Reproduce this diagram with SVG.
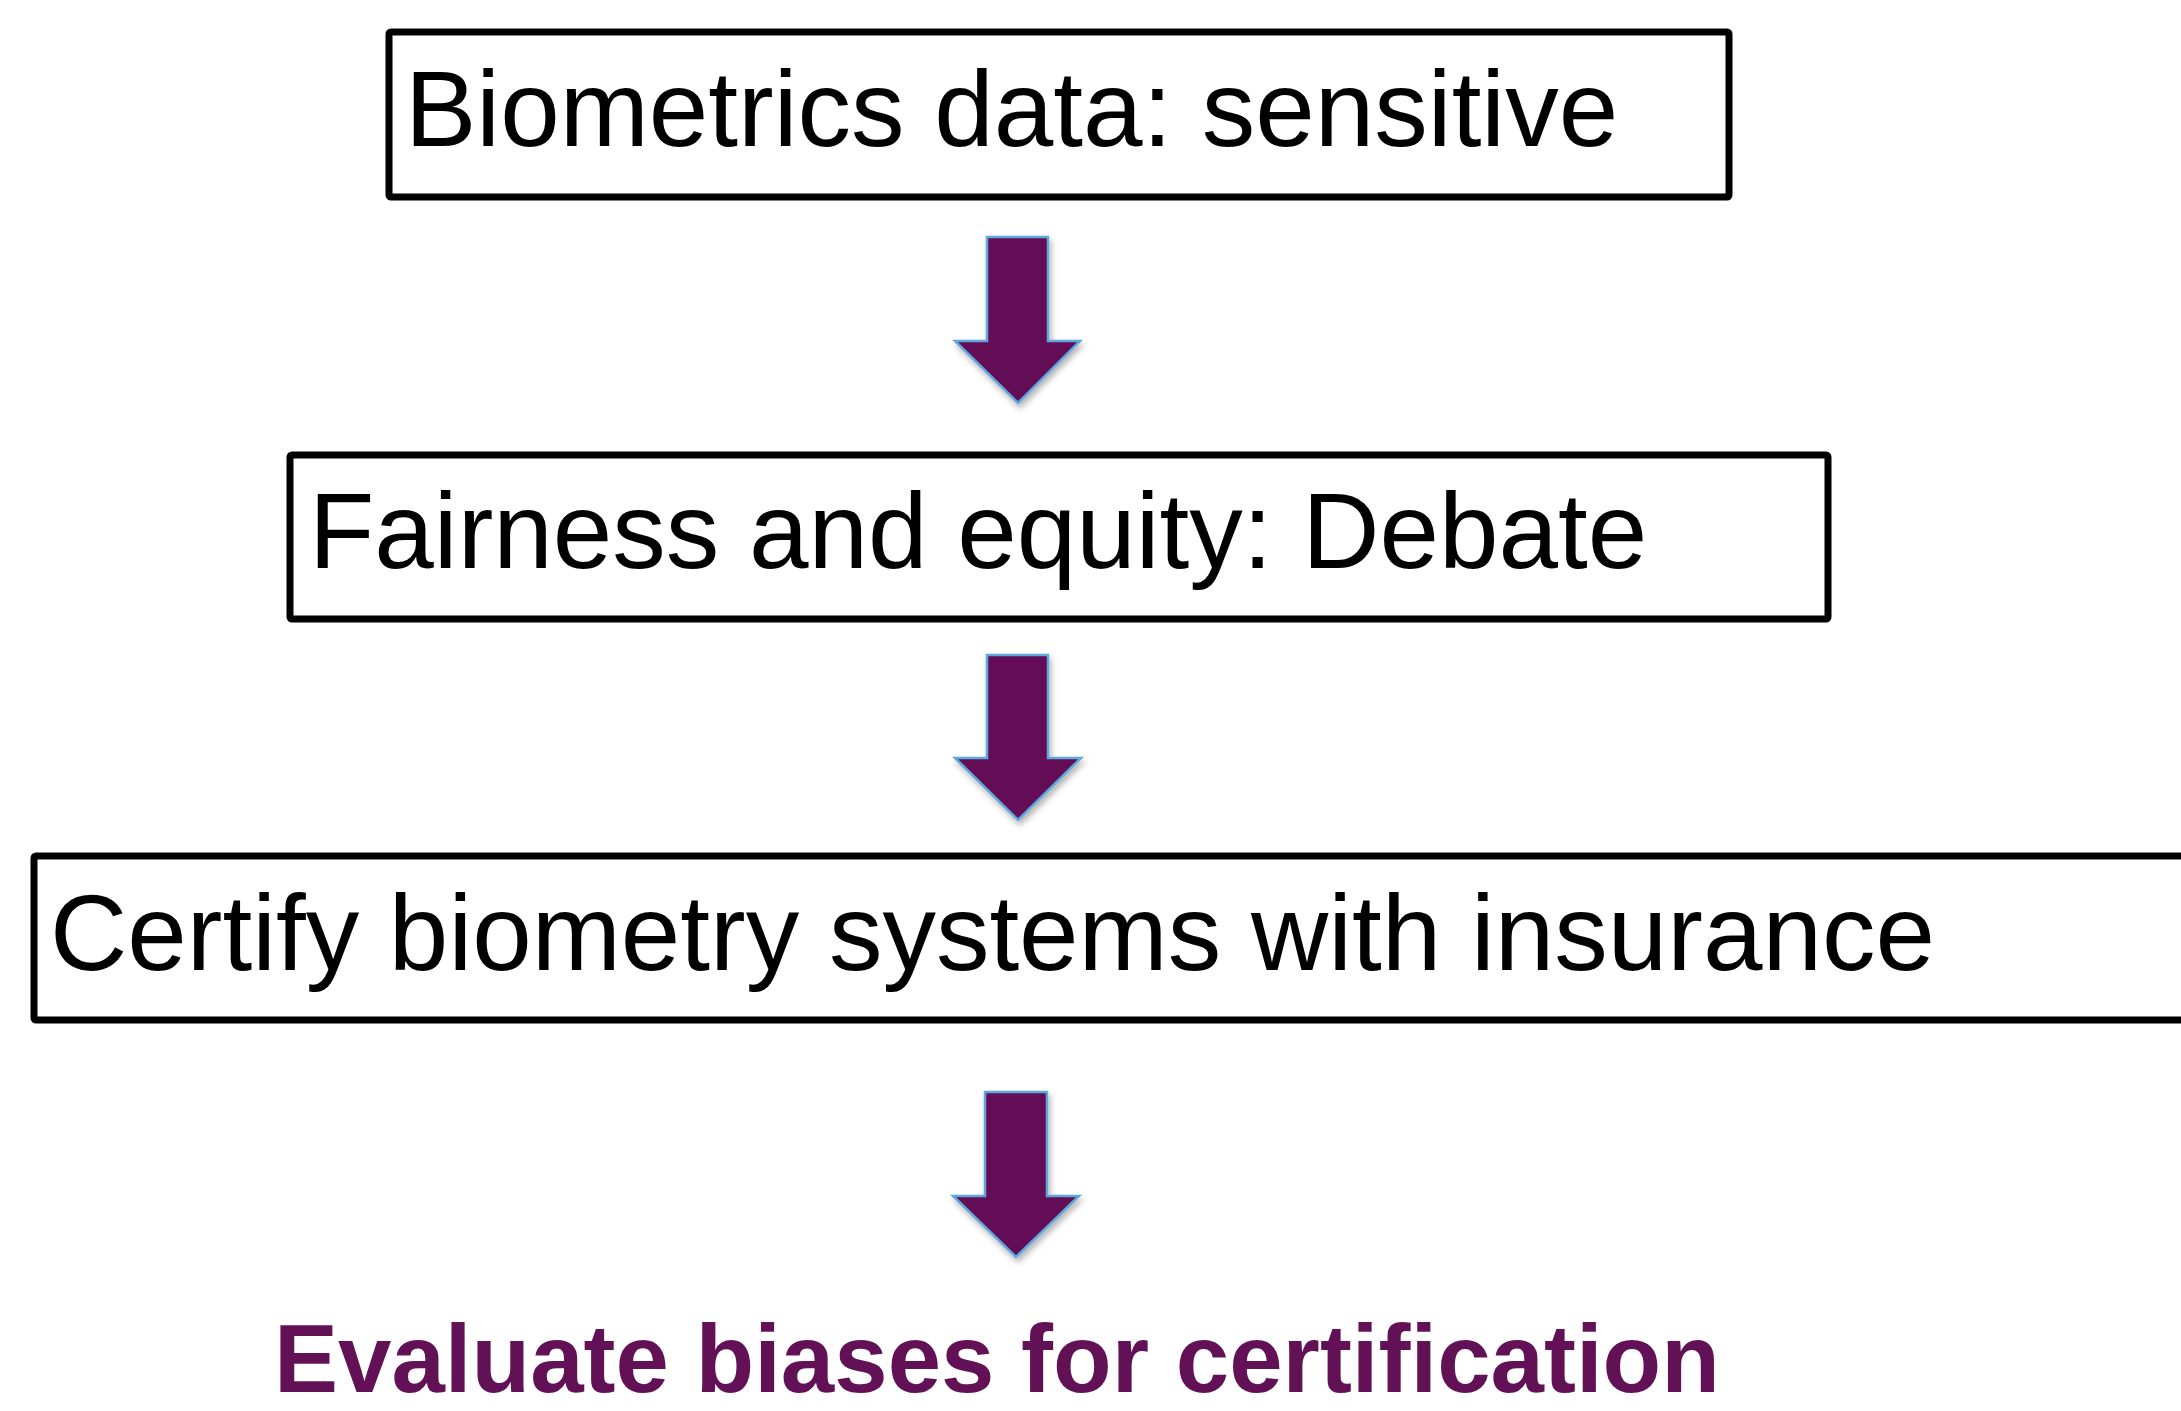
<svg xmlns="http://www.w3.org/2000/svg" width="2181" height="1411" viewBox="0 0 2181 1411">
  <style>
    .box { fill: #ffffff; stroke: #000000; stroke-width: 7; }
    .label { font-family: "Liberation Sans", Arial, sans-serif; font-size: 107px; fill: #000000; }
    .result { font-family: "Liberation Sans", Arial, sans-serif; font-size: 96px; font-weight: bold; fill: #621156; }
    .arrow { fill: #621055; stroke: #5FA8DC; stroke-width: 2.5; stroke-linejoin: miter; filter: url(#shadow); }
  </style>
  <defs>
    <filter id="shadow" x="-30%" y="-20%" width="160%" height="150%">
      <feDropShadow dx="2" dy="4" stdDeviation="3" flood-color="#000000" flood-opacity="0.3"/>
    </filter>
  </defs>
  <rect width="2181" height="1411" fill="#ffffff"/>

  <g id="node-biometrics">
    <rect class="box" x="389" y="32" width="1340" height="165" rx="2"/>
    <text class="label" x="405" y="146">Biometrics data: sensitive</text>
  </g>

  <g id="node-fairness">
    <rect class="box" x="290" y="455" width="1538" height="164" rx="2"/>
    <text class="label" x="309" y="568">Fairness and equity: Debate</text>
  </g>

  <g id="node-certify">
    <rect class="box" x="34" y="856" width="2200" height="164" rx="2"/>
    <text class="label" x="50" y="970">Certify biometry systems with insurance</text>
  </g>

  <g id="node-evaluate">
    <text class="result" x="274" y="1392">Evaluate biases for certification</text>
  </g>

  <g id="connectors">
    <polygon class="arrow" points="987,237 1048,237 1048,341 1080,341 1018,403 955,341 987,341"/>
    <polygon class="arrow" points="987,655 1048,655 1048,758 1081,758 1018,820 955,758 987,758"/>
    <polygon class="arrow" points="985,1092 1047,1092 1047,1196 1079,1196 1016,1257 953,1196 985,1196"/>
  </g>
</svg>
